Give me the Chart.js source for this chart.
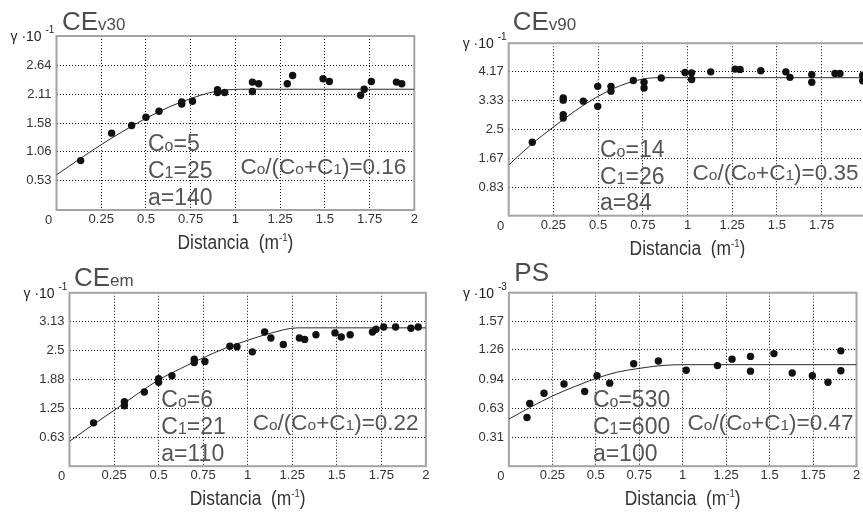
<!DOCTYPE html>
<html>
<head>
<meta charset="utf-8">
<script src="https://cdn.jsdelivr.net/npm/chart.js@4.4.0/dist/chart.umd.min.js"></script>
<style>
  html, body { margin: 0; padding: 0; background: #fff; overflow: hidden; }
  #wrap { position: relative; width: 863px; height: 516px; overflow: hidden; }
  canvas { position: absolute; }
</style>
</head>
<body>
<div id="wrap">
  <canvas id="cv30" width="431" height="258" style="left:0;top:0"></canvas>
  <canvas id="cv90" width="460" height="258" style="left:431px;top:0"></canvas>
  <canvas id="cem" width="431" height="258" style="left:0;top:258px"></canvas>
  <canvas id="cps" width="432" height="258" style="left:431px;top:258px"></canvas>
</div>
<script>
// shared x ticks (distance)
const xTickValues = [0, 0.25, 0.5, 0.75, 1, 1.25, 1.5, 1.75, 2];

// CEv30
const v30X = [0.135, 0.308, 0.42, 0.50, 0.573, 0.70, 0.70, 0.76, 0.90, 0.90, 0.94, 1.095, 1.095, 1.13, 1.29, 1.32, 1.49, 1.525, 1.70, 1.72, 1.76, 1.90, 1.93];
const v30Y = [0.90, 1.40, 1.54, 1.69, 1.80, 1.97, 1.93, 1.98, 2.19, 2.14, 2.14, 2.33, 2.16, 2.30, 2.30, 2.45, 2.39, 2.34, 2.09, 2.20, 2.34, 2.33, 2.30];
const v30ModelX = [0, 0.125, 0.25, 0.375, 0.5, 0.625, 0.75, 0.875, 1.03, 2];
const v30ModelY = [0.64, 0.92, 1.19, 1.44, 1.67, 1.87, 2.03, 2.15, 2.20, 2.20];
const v30Ticks = [0.53, 1.06, 1.58, 2.11, 2.64];

// CEv90
const v90X = [0.132, 0.305, 0.305, 0.305, 0.305, 0.417, 0.498, 0.498, 0.572, 0.572, 0.697, 0.757, 0.757, 0.853, 0.986, 1.023, 1.023, 1.13, 1.266, 1.294, 1.41, 1.55, 1.573, 1.695, 1.695, 1.825, 1.853, 1.98, 1.98];
const v90Y = [2.13, 3.41, 3.35, 2.93, 2.83, 3.32, 3.75, 3.17, 3.75, 3.61, 3.92, 3.87, 3.70, 3.99, 4.15, 4.14, 3.95, 4.17, 4.25, 4.24, 4.20, 4.17, 4.01, 4.09, 3.87, 4.12, 4.12, 4.07, 3.91];
const v90ModelX = [0, 0.125, 0.25, 0.375, 0.5, 0.625, 0.75, 0.84, 2];
const v90ModelY = [1.47, 2.06, 2.57, 3.05, 3.46, 3.77, 3.96, 4.0, 4.0];
const v90Ticks = [0.83, 1.67, 2.5, 3.33, 4.17];

// CEem
const emX = [0.135, 0.308, 0.308, 0.42, 0.50, 0.50, 0.575, 0.70, 0.70, 0.76, 0.90, 0.94, 1.026, 1.095, 1.13, 1.20, 1.29, 1.32, 1.383, 1.49, 1.525, 1.575, 1.70, 1.72, 1.763, 1.83, 1.916, 1.957];
const emY = [0.94, 1.40, 1.31, 1.61, 1.90, 1.82, 1.96, 2.32, 2.25, 2.27, 2.60, 2.59, 2.48, 2.91, 2.78, 2.64, 2.78, 2.75, 2.85, 2.89, 2.80, 2.85, 2.91, 2.97, 3.02, 3.02, 2.99, 3.02];
const emModelX = [0, 0.125, 0.25, 0.375, 0.5, 0.625, 0.75, 0.875, 1.0, 1.125, 1.28, 2];
const emModelY = [0.54, 0.88, 1.21, 1.55, 1.87, 2.12, 2.35, 2.56, 2.73, 2.88, 3.0, 3.0];
const emTicks = [0.63, 1.25, 1.88, 2.5, 3.13];

// PS
const psX = [0.104, 0.12, 0.202, 0.317, 0.436, 0.507, 0.58, 0.718, 0.86, 1.02, 1.20, 1.284, 1.39, 1.39, 1.525, 1.63, 1.746, 1.836, 1.91, 1.91];
const psY = [0.527, 0.68, 0.79, 0.89, 0.81, 0.98, 0.90, 1.11, 1.14, 1.04, 1.09, 1.16, 1.19, 1.03, 1.22, 1.01, 0.98, 0.91, 1.25, 1.035];
const psModelX = [0, 0.125, 0.25, 0.375, 0.5, 0.625, 0.75, 0.875, 1.0, 2];
const psModelY = [0.51, 0.64, 0.76, 0.86, 0.95, 1.02, 1.06, 1.09, 1.10, 1.10];
const psTicks = [0.31, 0.63, 0.94, 1.26, 1.57];

// panel labels
const titleMain = ['CE', 'CE', 'CE', 'PS'];
const titleSub = ['v30', 'v90', 'em', ''];
const unitExp = ['-1', '-1', '-1', '-3'];
const nuggets = ['5', '14', '6', '530'];
const sills = ['25', '26', '21', '600'];
const ranges = ['140', '84', '110', '100'];
const ratios = ['0.16', '0.35', '0.22', '0.47'];

const FONT = '"Liberation Sans", Arial, sans-serif';
const Y_W = 44, X_H = 26;

// layout: canvas box and plot area in page pixels
const panels = [
  { id: 'cv30', box: [0, 0, 431, 258], area: [56.5, 36, 414.3, 210], yMax: 3.17,
    xs: v30X, ys: v30Y, mx: v30ModelX, my: v30ModelY, ticks: v30Ticks, title: [62, 30], annX: 91.5 },
  { id: 'cv90', box: [431, 0, 460, 258], area: [508.7, 43.2, 866.3, 215.7], yMax: 5.0,
    xs: v90X, ys: v90Y, mx: v90ModelX, my: v90ModelY, ticks: v90Ticks, title: [512.7, 30], annX: 91.3 },
  { id: 'cem', box: [0, 258, 431, 258], area: [69.5, 292.8, 427.3, 466.2], yMax: 3.76,
    xs: emX, ys: emY, mx: emModelX, my: emModelY, ticks: emTicks, title: [74, 286], annX: 91.8 },
  { id: 'cps', box: [431, 258, 432, 258], area: [508.9, 292.7, 856.5, 466.2], yMax: 1.88,
    xs: psX, ys: psY, mx: psModelX, my: psModelY, ticks: psTicks, title: [514.3, 281.3], annX: 84 }
];

function drawRuns(ctx, x, y, runs) {
  for (const [t, size, dy] of runs) {
    ctx.font = size + 'px ' + FONT;
    ctx.fillText(t, x, y + (dy || 0));
    x += ctx.measureText(t).width;
  }
  return x;
}
function runsWidth(ctx, runs) {
  let w = 0;
  for (const [t, size] of runs) { ctx.font = size + 'px ' + FONT; w += ctx.measureText(t).width; }
  return w;
}

const panelText = {
  id: 'panelText',
  beforeDatasetsDraw(chart) {
    const a = chart.chartArea, ctx = chart.ctx;
    ctx.save();
    ctx.strokeStyle = '#a3a3a3';
    ctx.lineWidth = 2;
    ctx.strokeRect(a.left, a.top, a.right - a.left, a.bottom - a.top);
    ctx.restore();
  },
  afterDraw(chart, args, opts) {
    const i = opts.index, p = panels[i];
    const a = chart.chartArea, ctx = chart.ctx;
    const ox = p.box[0], oy = p.box[1];
    ctx.save();
    ctx.textBaseline = 'alphabetic';
    ctx.textAlign = 'left';

    // title
    ctx.fillStyle = '#4d4d4d';
    drawRuns(ctx, p.title[0] - ox, p.title[1] - oy, [[titleMain[i], 26], [titleSub[i], 17]]);

    // unit label
    ctx.fillStyle = '#222';
    drawRuns(ctx, a.left - 46, a.top + 5, [['\u03b3 \u00b710 ', 14], [unitExp[i], 10, -8]]);

    // corner zero
    ctx.font = '13px ' + FONT;
    ctx.textAlign = 'center';
    ctx.fillStyle = '#333';
    ctx.fillText('0', a.left - 8, a.bottom + 14);
    ctx.textAlign = 'left';

    // model parameters
    ctx.fillStyle = '#555';
    const lx = a.left + p.annX;
    drawRuns(ctx, lx, a.bottom - 59, [['C', 23], ['o', 16], ['=' + nuggets[i], 23]]);
    drawRuns(ctx, lx, a.bottom - 32, [['C', 23], ['1', 16], ['=' + sills[i], 23]]);
    drawRuns(ctx, lx, a.bottom - 5.5, [['a=' + ranges[i], 23]]);
    const rx = a.left + (a.right - a.left) * 0.514;
    drawRuns(ctx, rx, a.bottom - 36, [['C', 22.5], ['o', 15.5], ['/(C', 22.5], ['o', 15.5], ['+C', 22.5], ['1', 15.5], [')=' + ratios[i], 22.5]]);

    // x-axis title (condensed)
    ctx.fillStyle = '#333';
    const runs = [['Distancia  (m', 20], ['-1', 11, -8], [')', 20]];
    const sx = 0.87;
    const w = runsWidth(ctx, runs) * sx;
    const cx = (a.left + a.right) / 2;
    ctx.translate(cx - w / 2, a.bottom + 39);
    ctx.scale(sx, 1);
    drawRuns(ctx, 0, 0, runs);
    ctx.restore();
  }
};
Chart.register(panelText);

panels.forEach((p, i) => {
  const [bx, by, bw, bh] = p.box;
  const [al, at, ar, ab] = p.area;
  const points = p.xs.map((x, k) => ({ x: x, y: p.ys[k] }));
  const model = p.mx.map((x, k) => ({ x: x, y: p.my[k] }));
  new Chart(document.getElementById(p.id), {
    type: 'scatter',
    data: {
      datasets: [
        { data: points, pointRadius: 3.7, pointBackgroundColor: '#111', pointBorderWidth: 0, showLine: false, order: 0 },
        { data: model, showLine: true, borderColor: '#2a2a2a', borderWidth: 1, pointRadius: 0,
          cubicInterpolationMode: 'monotone', fill: false, order: 1 }
      ]
    },
    options: {
      responsive: false,
      animation: false,
      events: [],
      layout: {
        padding: { left: al - bx - Y_W, top: at - by, right: bx + bw - ar, bottom: by + bh - ab - X_H }
      },
      plugins: { legend: { display: false }, tooltip: { enabled: false }, panelText: { index: i } },
      scales: {
        x: {
          type: 'linear', min: 0, max: 2,
          afterBuildTicks: s => { s.ticks = xTickValues.map(v => ({ value: v })); },
          afterFit: s => { s.height = X_H; },
          grid: {
            drawTicks: false, lineWidth: 1,
            color: c => (c.tick && (c.tick.value === 0 || c.tick.value === 2)) ? 'rgba(0,0,0,0)' : '#111'
          },
          border: { display: false, dash: [1, 2] },
          ticks: {
            autoSkip: false, maxRotation: 0, padding: 1.5, color: '#333',
            font: { family: FONT, size: 13 },
            callback: v => v === 0 ? '' : String(v)
          }
        },
        y: {
          type: 'linear', min: 0, max: p.yMax,
          afterBuildTicks: s => { s.ticks = p.ticks.map(v => ({ value: v })); },
          afterFit: s => { s.width = Y_W; },
          grid: { drawTicks: false, lineWidth: 1, color: '#111' },
          border: { display: false, dash: [1, 2] },
          ticks: {
            padding: 5, color: '#333',
            font: { family: FONT, size: 13 },
            callback: v => String(v)
          }
        }
      }
    }
  });
});
</script>
</body>
</html>
